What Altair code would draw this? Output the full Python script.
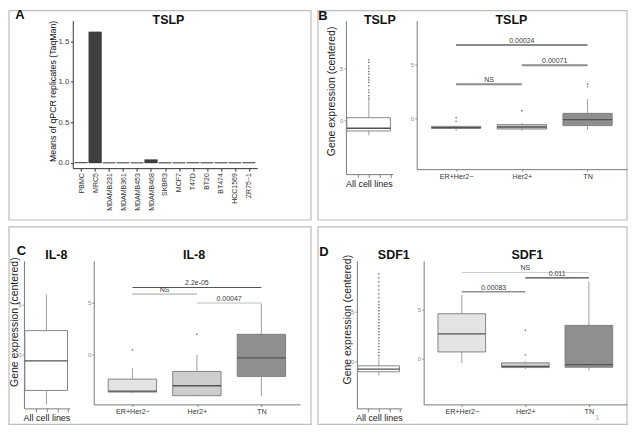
import json
import altair as alt
import pandas as pd

FONT = "Liberation Sans"

# ---------------- data ----------------
# Panel A: TSLP qPCR (TaqMan) means per cell line
cell_lines = ["PBMC", "MRC5", "MDAMB231", "MDAMB361", "MDAMB453", "MDAMB468",
              "SKBR3", "MCF7", "T47D", "BT20", "BT474", "HCC1569", "ZR75−1"]
tslp_qpcr = [0.005, 1.616, 0.001, 0.002, 0.001, 0.04, 0.001, 0.001, 0.003,
             0.002, 0.002, 0.002, 0.004]

subtypes = ["ER+Her2−", "Her2+", "TN"]
all_label = "All cell lines"

# box statistics: lower whisker, Q1, median, Q3, upper whisker
tslp_all_stats = [-1.42, -0.99, -0.73, 0.28, 2.05]
tslp_all_outliers = [2.11, 2.37, 2.69, 2.94, 3.32, 3.64, 3.89, 4.11, 4.43,
                     4.68, 4.97, 5.22, 5.54, 5.79]
tslp_lo = [-1.2, -1.18, -1.12]
tslp_q1 = [-0.97, -1.03, -0.71]
tslp_med = [-0.9, -0.84, -0.15]
tslp_q3 = [-0.78, -0.62, 0.44]
tslp_hi = [-0.72, -0.47, 1.78]
tslp_outliers = [[0.05, -0.3], [0.69], [3.18, 2.94]]
tslp_sig_from = [1, 2, 1]
tslp_sig_to = [3, 3, 2]
tslp_sig_y = [6.87, 4.96, 3.18]
tslp_sig_label = ["0.00024", "0.00071", "NS"]

il8_all_stats = [-5.06, -3.63, -0.67, 2.37, 6.0]
il8_all_outliers = []
il8_lo = [-3.75, -4.0, -4.07]
il8_q1 = [-3.65, -4.0, -2.14]
il8_med = [-3.56, -3.04, -0.35]
il8_q3 = [-2.4, -1.66, 1.92]
il8_hi = [-1.35, -0.06, 4.9]
il8_outliers = [[0.42], [1.92], []]
il8_sig_from = [1, 1, 2]
il8_sig_to = [3, 2, 3]
il8_sig_y = [6.44, 5.8, 4.94]
il8_sig_label = ["2.2e-05", "NS", "0.00047"]

sdf1_all_stats = [-1.4, -1.03, -0.77, -0.43, 0.45]
sdf1_all_outliers = [0.6, 0.9, 1.2, 1.5, 1.8, 2.1, 2.4, 2.7, 3.0, 3.3, 3.6,
                     3.9, 4.2, 4.5, 4.8, 5.1, 5.4, 5.7, 6.0, 6.4, 6.8, 7.2,
                     7.6, 8.0, 8.4, 8.8]
sdf1_lo = [-0.51, -1.12, -1.26]
sdf1_q1 = [0.65, -0.95, -0.92]
sdf1_med = [2.49, -0.82, -0.64]
sdf1_q3 = [4.56, -0.47, 3.37]
sdf1_hi = [6.47, -0.3, 7.83]
sdf1_outliers = [[], [2.86, 0.35], []]
sdf1_sig_from = [1, 2, 1]
sdf1_sig_to = [3, 3, 2]
sdf1_sig_y = [8.78, 8.23, 6.8]
sdf1_sig_label = ["NS", "0.011", "0.00083"]

# ---------------- styles ----------------
subtype_fill = ["#e4e4e4", "#cecece", "#8f8f8f"]
ONE = pd.DataFrame({"k": [0]})


def text_layer(txt, x, y, size, weight="normal", color="#111111", align="center",
               angle=0, baseline="alphabetic"):
    return alt.Chart(ONE).mark_text(
        text=txt, fontSize=size, fontWeight=weight, color=color, align=align,
        baseline=baseline, font=FONT, angle=angle
    ).encode(x=alt.value(x), y=alt.value(y))


def frame_layer(x1, x2, y1, y2):
    return alt.Chart(ONE).mark_rect(
        fillOpacity=0, stroke="#bdbdbd", strokeWidth=1.2
    ).encode(x=alt.value(x1), x2=alt.value(x2), y=alt.value(y1), y2=alt.value(y2))


def y_axis(title="", tx=0, ty=0):
    kw = dict(values=[0, 5], format="d", labelFontSize=6, labelColor="#8a8a8a",
              tickSize=2, tickColor="#999999", domainColor="#7a7a7a",
              labelPadding=1, grid=False)
    if title:
        kw.update(title=title, titleFontSize=10.5, titleFontWeight="normal",
                  titleColor="#222222", titleAngle=270, titleX=tx, titleY=ty,
                  titleAlign="center", titleBaseline="middle")
    else:
        kw.update(title="")
    return alt.Axis(**kw)


def box_layers(stats, outdf, xsc, ysc, xax, yax):
    X = lambda f: alt.X(f, type="quantitative", scale=xsc, axis=xax)
    Y = lambda f: alt.Y(f, type="quantitative", scale=ysc, axis=yax)
    base = alt.Chart(stats)
    layers = [
        base.mark_rule(color="#a0a0a0", strokeWidth=1).encode(
            x=X("pos"), y=Y("lo"), y2=alt.Y2("hi")),
        base.mark_rect(stroke="#7a7a7a", strokeWidth=0.9).encode(
            x=X("x_lo"), x2=alt.X2("x_hi"), y=Y("q1"), y2=alt.Y2("q3"),
            fill=alt.Fill("fill:N", scale=None)),
        base.mark_rule(color="#525252", strokeWidth=1.3).encode(
            x=X("x_lo"), x2=alt.X2("x_hi"), y=Y("med")),
    ]
    if len(outdf):
        layers.append(alt.Chart(outdf).mark_circle(size=3, color="#808080", opacity=1).encode(
            x=X("pos"), y=Y("val")))
    return layers, X, Y


def all_panel(stats5, outs, ydom, w, h, title, tpos, ytitle_xy, extra=()):
    lo, q1, med, q3, hi = stats5
    stats = pd.DataFrame({"pos": [0.99], "x_lo": [0.52], "x_hi": [1.45], "lo": [lo],
                          "q1": [q1], "med": [med], "q3": [q3], "hi": [hi], "fill": ["#ffffff"]})
    outdf = pd.DataFrame({"pos": [0.99] * len(outs), "val": outs})
    xsc = alt.Scale(domain=[0.5, 1.5], nice=False, zero=False)
    ysc = alt.Scale(domain=ydom, nice=False, zero=False)
    xax = alt.Axis(values=[0.75, 0.99, 1.23, 1.45],
                   labelExpr="datum.value == 0.99 ? " + json.dumps(all_label) + " : ''",
                   labelFontSize=9, labelColor="#222222", tickSize=3.5, labelPadding=2,
                   tickColor="#888888", domainColor="#7a7a7a", labelOverlap=False,
                   labelFlush=False, title="", grid=False)
    yax = y_axis("Gene expression (centered)", ytitle_xy[0], ytitle_xy[1])
    layers, X, Y = box_layers(stats, outdf, xsc, ysc, xax, yax)
    layers.append(text_layer(title, tpos[0], tpos[1], 12.5, "bold"))
    layers.extend(extra)
    return alt.layer(*layers).properties(width=w, height=h)


def group_panel(lo, q1, med, q3, hi, outs, sfrom, sto, sy, slab, scol, sw,
                ydom, w, h, title, tpos, extra=()):
    stats = pd.DataFrame({"subtype": subtypes, "pos": [1, 2, 3], "lo": lo, "q1": q1,
                          "med": med, "q3": q3, "hi": hi, "fill": subtype_fill})
    stats["x_lo"] = stats["pos"] - 0.375
    stats["x_hi"] = stats["pos"] + 0.375
    outdf = pd.DataFrame([{"pos": i + 1, "val": v} for i, vs in enumerate(outs) for v in vs])
    sig = pd.DataFrame({"x1": sfrom, "x2": sto, "y": sy, "label": slab, "col": scol, "sw": sw})
    sig["xm"] = (sig["x1"] + sig["x2"]) / 2
    xsc = alt.Scale(domain=[0.4, 3.6], nice=False, zero=False)
    ysc = alt.Scale(domain=ydom, nice=False, zero=False)
    lab_arr = json.dumps([""] + subtypes)
    xax = alt.Axis(values=[1, 2, 3], labelExpr=lab_arr + "[datum.value]",
                   labelFontSize=7.2, labelColor="#333333", tickSize=2, labelPadding=1,
                   tickColor="#888888", domainColor="#7a7a7a", labelOverlap=False,
                   labelFlush=False, title="", grid=False)
    yax = y_axis()
    layers, X, Y = box_layers(stats, outdf, xsc, ysc, xax, yax)
    sbase = alt.Chart(sig)
    layers.append(sbase.mark_rule().encode(
        x=X("x1"), x2=alt.X2("x2"), y=Y("y"),
        color=alt.Color("col:N", scale=None),
        strokeWidth=alt.StrokeWidth("sw:Q", scale=None)))
    layers.append(sbase.mark_text(fontSize=7, color="#3a3a3a", dy=-2, font=FONT,
                                  baseline="alphabetic").encode(
        x=X("xm"), y=Y("y"), text="label:N"))
    layers.append(text_layer(title, tpos[0], tpos[1], 12.5, "bold"))
    layers.extend(extra)
    return alt.layer(*layers).properties(width=w, height=h)


# ---------------- Panel A ----------------
a_df = pd.DataFrame({"cell": cell_lines, "value": tslp_qpcr,
                     "pos": list(range(1, len(cell_lines) + 1))})
a_df["x_lo"] = a_df["pos"] - 0.45
a_df["x_hi"] = a_df["pos"] + 0.45
a_xsc = alt.Scale(domain=[0.4, len(cell_lines) + 0.6], nice=False, zero=False)
a_xax = alt.Axis(values=list(range(1, len(cell_lines) + 1)),
                 labelExpr=json.dumps([""] + cell_lines) + "[datum.value]",
                 labelAngle=270, labelAlign="right", labelBaseline="middle",
                 labelFontSize=7, labelColor="#333333", labelOverlap=False,
                 labelFlush=False, tickSize=3, labelPadding=1.5, title="",
                 domainColor="#333333", tickColor="#333333", grid=False)
a_bars = alt.Chart(a_df).mark_rect(color="#3f3f3f", stroke="#3f3f3f", strokeWidth=0.6).encode(
    x=alt.X("x_lo:Q", scale=a_xsc, axis=a_xax),
    x2=alt.X2("x_hi"),
    y=alt.Y("value:Q", scale=alt.Scale(domain=[-0.065, 1.755], nice=False, zero=False),
            axis=alt.Axis(values=[0, 0.5, 1.0, 1.5], format=".1f", labelFontSize=7.8,
                          labelColor="#444444", tickSize=2.5, tickColor="#333333",
                          domainColor="#333333", labelPadding=1.5, grid=False,
                          title="")),
    y2=alt.datum(0),
)
# panel frames of the top row are drawn relative to panel A's plot area
panel_a = alt.layer(
    frame_layer(-64, 239, -10, 200),
    frame_layer(246, 556, -10, 200),
    a_bars,
).properties(width=185, height=148)

# ---------------- Panel B ----------------
# panel A's letter, title and y-axis title are placed from panel B's frame of reference
b_left = all_panel(tslp_all_stats, tslp_all_outliers, [-5.10, 9.525], 47, 154,
                   "TSLP", (34, 3), (-14.7, 70.5),
                   extra=[text_layer("B", -23, -1, 13, "bold"),
                          text_layer("A", -327, -2, 13, "bold"),
                          text_layer("TSLP", -178, 3, 12.5, "bold"),
                          text_layer("Means of qPCR replicates (TaqMan)", -294.3, 71, 8.8,
                                     color="#111111", angle=270, baseline="middle")])
b_right = group_panel(tslp_lo, tslp_q1, tslp_med, tslp_q3, tslp_hi, tslp_outliers,
                      tslp_sig_from, tslp_sig_to, tslp_sig_y, tslp_sig_label,
                      ["#8c8c8c", "#8c8c8c", "#8c8c8c"], [2, 2, 2],
                      [-4.80, 9.15], 211, 149, "TSLP", (95, 3))

# ---------------- Panel C ----------------
# panel frames of the bottom row are drawn relative to the first panel C plot area
c_left = all_panel(il8_all_stats, il8_all_outliers, [-5.43, 9.37], 46, 148,
                   "IL-8", (32.5, -2.3), (-9.0, 61),
                   extra=[frame_layer(-15, 288, -34, 164),
                          frame_layer(295, 605, -34, 164),
                          text_layer("C", -2.5, -6, 13, "bold")])
c_right = group_panel(il8_lo, il8_q1, il8_med, il8_q3, il8_hi, il8_outliers,
                      il8_sig_from, il8_sig_to, il8_sig_y, il8_sig_label,
                      ["#555555", "#c8c8c8", "#bdbdbd"], [1.2, 2, 1],
                      [-4.84, 9.01], 207, 144, "IL-8", (100.7, -2.3))

# ---------------- Panel D ----------------
d_left = all_panel(sdf1_all_stats, sdf1_all_outliers, [-4.7, 10.1], 45, 148,
                   "SDF1", (37, -1.5), (-9, 58.5),
                   extra=[text_layer("D", -33, -5, 13, "bold")])
d_right = group_panel(sdf1_lo, sdf1_q1, sdf1_med, sdf1_q3, sdf1_hi, sdf1_outliers,
                      sdf1_sig_from, sdf1_sig_to, sdf1_sig_y, sdf1_sig_label,
                      ["#d0d0d0", "#444444", "#555555"], [1, 1.2, 1],
                      [-4.72, 9.97], 204, 144, "SDF1", (104, -1.5),
                      extra=[text_layer("1", 174, 160, 8, color="#b0b0b0")])


def spacer(w):
    return alt.Chart(ONE).mark_point(opacity=0).encode(
        x=alt.value(0), y=alt.value(0)).properties(width=w, height=1)


row1 = alt.hconcat(spacer(49), panel_a, spacer(89), b_left, spacer(24), b_right,
                   spacing=0, bounds="flush")
row2 = alt.hconcat(c_left, spacer(24), c_right, spacer(57), d_left, spacer(22), d_right,
                   spacing=0, bounds="flush")

chart = alt.vconcat(row1, row2, spacing=5).properties(
    padding=0, background="#ffffff"
).configure_view(
    strokeWidth=0
).configure_axis(
    grid=False, labelFont=FONT, titleFont=FONT, domainWidth=1, tickWidth=1
).configure_text(font=FONT)

chart.save("out.html", embed_options={"renderer": "svg", "actions": False})
